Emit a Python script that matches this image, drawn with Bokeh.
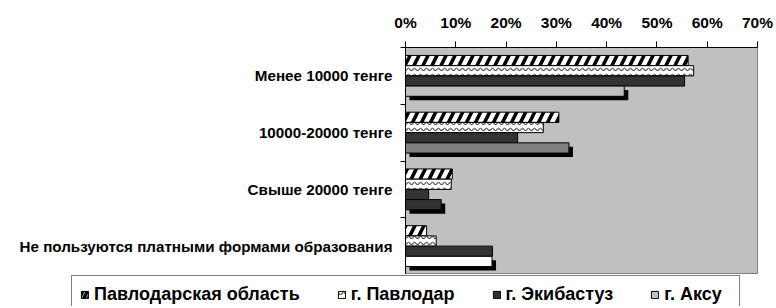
from bokeh.plotting import figure
from bokeh.models import (ColumnDataSource, Range1d, FixedTicker, NumeralTickFormatter,
                          Legend, LegendItem, CanvasTexture)
from bokeh.transform import dodge
from bokeh.embed import file_html
from bokeh.resources import INLINE

categories = ["Менее 10000 тенге", "10000-20000 тенге", "Свыше 20000 тенге",
              "Не пользуются платными формами образования"]
series = ["Павлодарская область", "г. Павлодар", "г. Экибастуз", "г. Аксу"]
pavlodar_obl = [0.562, 0.305, 0.093, 0.042]
pavlodar = [0.573, 0.274, 0.091, 0.061]
ekibastuz = [0.555, 0.223, 0.046, 0.173]
aksu = [0.435, 0.325, 0.071, 0.172]
aksu_colors = ["#c0c0c0", "#808080", "#333333", "#ffffff"]
x_ticks = [0.0, 0.1, 0.2, 0.3, 0.4, 0.5, 0.6, 0.7]

n = len(categories)
ypos = [n - 0.5 - i for i in range(n)]
src = ColumnDataSource(dict(y=ypos, cat=categories, s0=pavlodar_obl, s1=pavlodar,
                            s2=ekibastuz, s3=aksu, c3=aksu_colors))

FONT = "Liberation Sans"


def styles():
    dots = CanvasTexture(code="ctx.fillStyle = color; ctx.fillRect(4, 4, 1.8, 1.8);")
    return [
        dict(fill_color="white", hatch_pattern="/", hatch_color="black", hatch_weight=3.5, hatch_scale=18),
        dict(fill_color="white", hatch_pattern="v", hatch_color="black", hatch_weight=1, hatch_scale=6),
        dict(fill_color="#333333", hatch_pattern="dots", hatch_extra={"dots": dots},
             hatch_color="white", hatch_weight=1, hatch_scale=10),
    ]


p = figure(frame_width=352, frame_height=227, min_border_left=405, min_border_right=19,
           min_border_top=47, min_border_bottom=0,
           x_range=Range1d(0, 0.7), y_range=Range1d(0, n),
           x_axis_location="above", output_backend="svg", toolbar_location=None,
           background_fill_color="#c0c0c0", border_fill_color="white")
p.outline_line_color = "#808080"
p.grid.visible = False

bh = 0.18
offs = [0.27, 0.09, -0.09, -0.27]
sx = 0.008
sy = 0.07

ST = styles()
for k, col in enumerate(["s0", "s1", "s2"]):
    p.hbar(y=dodge("y", offs[k]), left=0, right=col, height=bh, source=src,
           line_color="black", line_width=1, **ST[k])
p.hbar(y=dodge("y", offs[3] - sy), left=sx, right=dodge("s3", sx), height=bh, source=src,
       fill_color="black", line_color=None)
p.hbar(y=dodge("y", offs[3]), left=0, right="s3", height=bh, source=src,
       fill_color="c3", line_color="black", line_width=1)

xa = p.xaxis[0]
xa.ticker = FixedTicker(ticks=x_ticks)
xa.formatter = NumeralTickFormatter(format="0%")
xa.major_label_text_font = FONT
xa.major_label_text_font_style = "bold"
xa.major_label_text_font_size = "15.5px"
xa.major_label_text_color = "black"
xa.major_tick_out = 6
xa.major_tick_in = 0
xa.minor_tick_out = 0
xa.major_label_standoff = 11
xa.axis_line_color = "black"

ya = p.yaxis[0]
ya.ticker = FixedTicker(ticks=ypos, minor_ticks=list(range(n + 1)))
ya.major_label_overrides = {y: c for y, c in zip(ypos, categories)}
ya.major_label_text_font = FONT
ya.major_label_text_font_style = "bold"
ya.major_label_text_font_size = "15.2px"
ya.major_label_text_color = "black"
ya.major_tick_out = 0
ya.major_tick_in = 0
ya.minor_tick_out = 5
ya.minor_tick_in = 0
ya.major_label_standoff = 8
ya.axis_line_color = "black"

# legend strip under the chart (separate root, so it can span the full width)
pl = figure(width=776, height=32, min_border=0, x_range=Range1d(0, 1), y_range=Range1d(0, 1),
            x_axis_location=None, y_axis_location=None, output_backend="svg",
            toolbar_location=None, background_fill_color="white", border_fill_color="white")
pl.outline_line_color = None
pl.grid.visible = False
LS = styles()
LS[0]["hatch_scale"] = 9
lsrc = ColumnDataSource(dict(y=[-5.0], left=[-5.0], right=[-4.0], c=[aksu_colors[0]]))
lrs = []
for k in range(3):
    lrs.append(pl.hbar(y="y", left="left", right="right", height=0.5, source=lsrc,
                       line_color="black", line_width=1, **LS[k]))
lrs.append(pl.hbar(y="y", left="left", right="right", height=0.5, source=lsrc,
                   fill_color="c", line_color="black", line_width=1))

items = [LegendItem(label=series[k], renderers=[lrs[k]], index=0) for k in range(4)]
legend = Legend(items=items, orientation="horizontal", location=(71, -8),
                margin=0, padding=8, spacing=37, label_standoff=5,
                label_height=20, label_width=67,
                glyph_width=9, glyph_height=9,
                label_text_font=FONT, label_text_font_style="bold",
                label_text_font_size="18px", label_text_color="black",
                border_line_color="black", border_line_width=1,
                background_fill_color="white", background_fill_alpha=1)
pl.add_layout(legend, "center")

open("out.html", "w").write(file_html([p, pl], INLINE))
